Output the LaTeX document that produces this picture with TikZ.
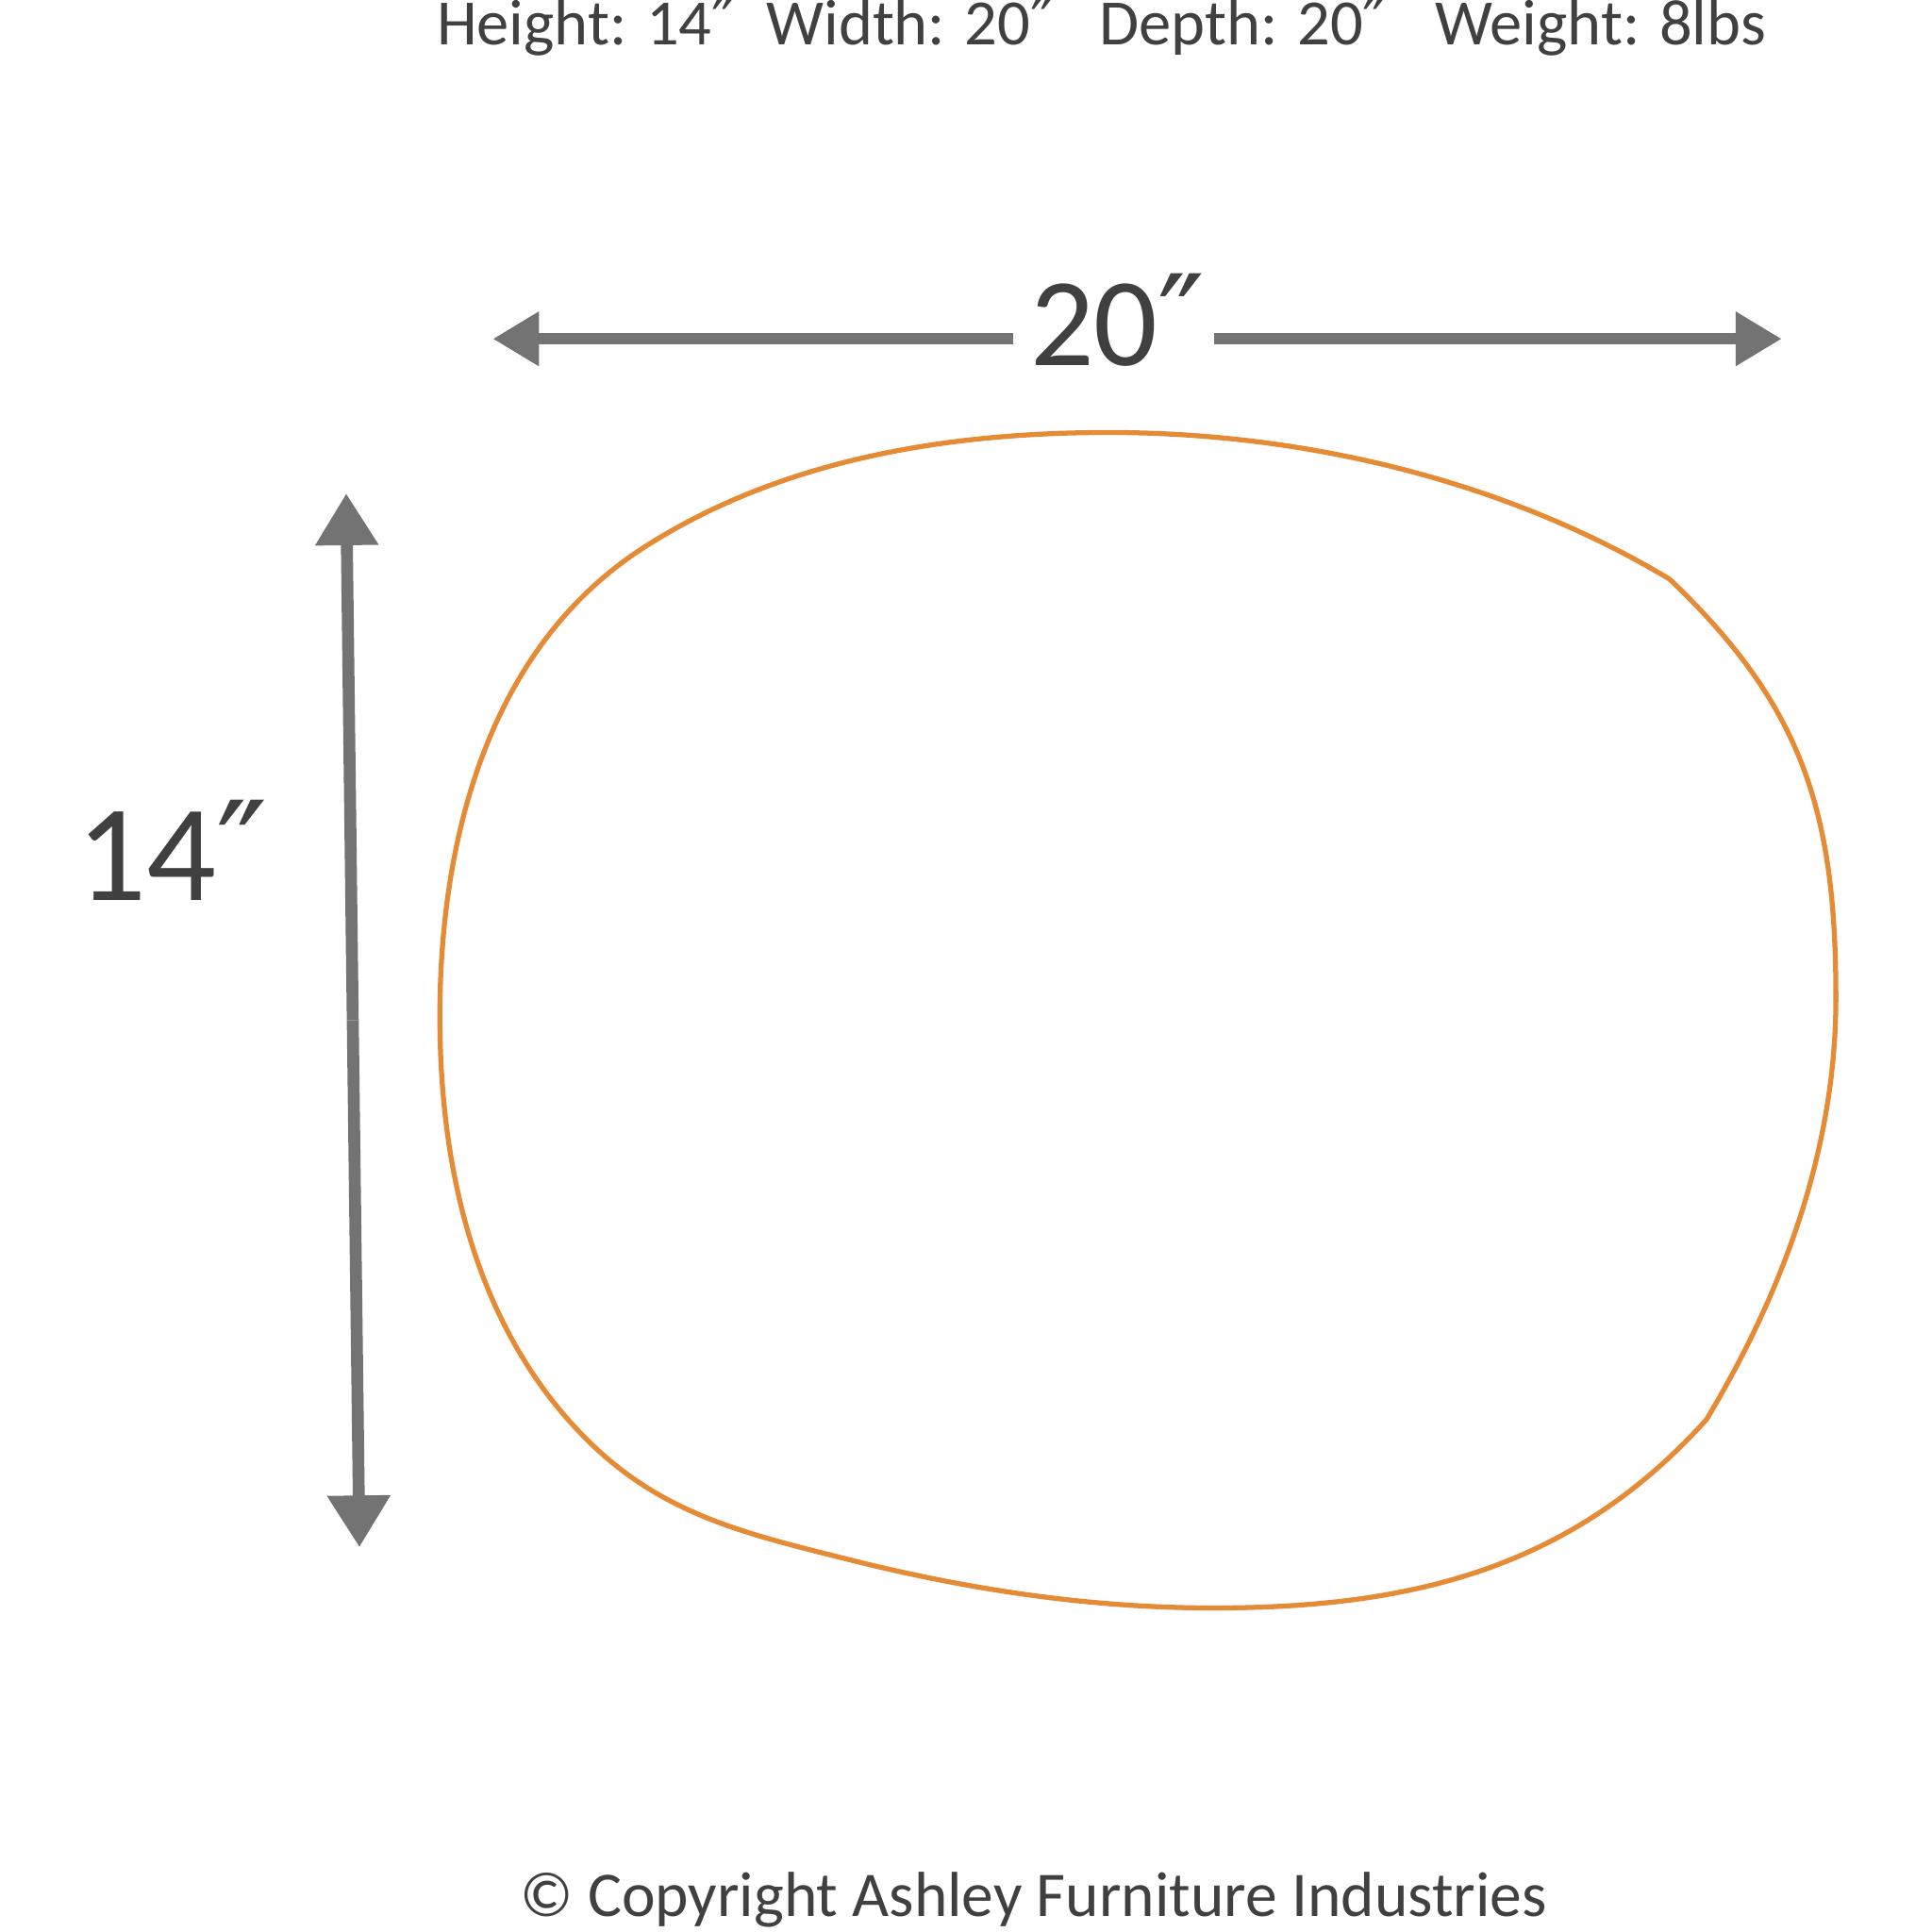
\documentclass[tikz,border=0pt]{standalone}
\usepackage{fontspec}
\setmainfont{Carlito}
\newfontfamily\qfont{DejaVu Sans}
\newcommand{\dq}{{\qfont ″}}
\usetikzlibrary{arrows.meta}
\definecolor{arrowgray}{HTML}{737373}
\definecolor{txtgray}{HTML}{404040}
\definecolor{outlineorange}{HTML}{E58A35}
\begin{document}
\begin{tikzpicture}[x=0.01306cm,y=-0.01306cm,
  toplabel/.style={text=txtgray,font=\fontsize{19.5}{24}\selectfont,inner sep=0pt,anchor=base},
  biglabel/.style={text=txtgray,inner sep=0pt,anchor=base},
  dimline/.style={draw=arrowgray,line width=3.3pt},
  htip/.style={-{Triangle[length=13.9pt,width=15.6pt]}},
  vtip/.style={-{Triangle[length=15.6pt,width=18.2pt]}},
  outline/.style={draw=outlineorange,line width=1.5pt}]
\useasboundingbox (0,0) rectangle (1568,1568);
% header
\node[toplabel] (h) at (476,36.7) {Height: 14\dq};
\node[toplabel] (w) at (739,36.7) {Width: 20\dq};
\node[toplabel] (d) at (1009,36.7) {Depth: 20\dq};
\node[toplabel] (wt) at (1299,36.7) {Weight: 8lbs};
% horizontal dimension
\coordinate (hl) at (400,275);
\coordinate (hr) at (1446,275);
\coordinate (hlm) at (822,275);
\coordinate (hrm) at (985,275);
\node[biglabel,font=\fontsize{38}{44}\selectfont] (wlab) at (907,297) {20\dq};
\draw[dimline,htip] (hlm) -- (hl);
\draw[dimline,htip] (hrm) -- (hr);
% vertical dimension
\coordinate (vt) at (281,400.5);
\coordinate (vb) at (291.7,1255.7);
\coordinate (vm) at (286.3,828);
\draw[dimline,line width=3.6pt,vtip] (vm) -- (vt);
\draw[dimline,line width=3.6pt,vtip] (vm) -- (vb);
\node[biglabel,font=\fontsize{41.5}{48}\selectfont] (hlab) at (140,731) {14\dq};
% outline
\draw[outline,line join=round] (900,351)
  .. controls (1057,351) and (1220.4,389.3) .. (1355,470)
  .. controls (1463.8,573.4) and (1490,660) .. (1490,810)
  .. controls (1490,932) and (1447.7,1047.4) .. (1385,1152)
  .. controls (1278,1270.9) and (1150,1305) .. (985,1305)
  .. controls (885,1305) and (787,1290.3) .. (690,1266)
  .. controls (602.7,1244.1) and (534.6,1228.7) .. (472,1164)
  .. controls (385.8,1074.8) and (357,949) .. (357,825)
  .. controls (357,677) and (398.4,523.8) .. (523,444)
  .. controls (634.1,372.9) and (768,351) .. (900,351) -- cycle;
% footer
\node[toplabel,font=\fontsize{19.2}{23}\selectfont] (copy) at (839,1555) {© Copyright Ashley Furniture Industries};
\end{tikzpicture}
\end{document}
